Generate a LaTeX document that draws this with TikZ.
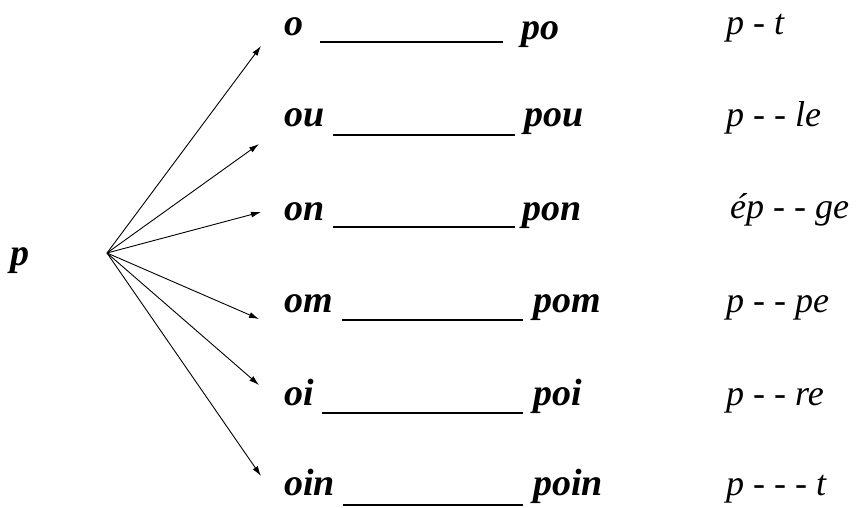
\documentclass[tikz,border=0pt]{standalone}
\usepackage{fontspec}
\setmainfont{Liberation Serif}
\newfontfamily\fa{Liberation Serif}
\usetikzlibrary{arrows.meta}
\begin{document}
\begin{tikzpicture}[x=1pt,y=-1pt,
  txt/.style={inner sep=0pt,anchor=base west},
  arr/.style={draw=black,line width=0.9pt,-{Latex[length=10pt,width=6pt]}},
  blank/.style={draw=black,line width=1.6pt}]
\useasboundingbox (0,0) rectangle (866,507);
\node[txt] (p) at (10,265) {\fontsize{38}{42}\selectfont\fa\bfseries\itshape p};
\coordinate (src) at (107,253);
% left column
\node[txt] (l1) at (284,35) {\fontsize{38}{42}\selectfont\fa\bfseries\itshape o};
\node[txt] (l2) at (284,126) {\fontsize{38}{42}\selectfont\fa\bfseries\itshape ou};
\node[txt] (l3) at (284,220) {\fontsize{38}{42}\selectfont\fa\bfseries\itshape on};
\node[txt] (l4) at (284,312) {\fontsize{38}{42}\selectfont\fa\bfseries\itshape om};
\node[txt] (l5) at (284,405) {\fontsize{38}{42}\selectfont\fa\bfseries\itshape oi};
\node[txt] (l6) at (284,495) {\fontsize{38}{42}\selectfont\fa\bfseries\itshape oin};
% middle column
\node[txt] (m1) at (521,39) {\fontsize{38}{42}\selectfont\fa\bfseries\itshape po};
\node[txt] (m2) at (524,126) {\fontsize{38}{42}\selectfont\fa\bfseries\itshape pou};
\node[txt] (m3) at (522,220) {\fontsize{38}{42}\selectfont\fa\bfseries\itshape pon};
\node[txt] (m4) at (533,312) {\fontsize{38}{42}\selectfont\fa\bfseries\itshape pom};
\node[txt] (m5) at (533,405) {\fontsize{38}{42}\selectfont\fa\bfseries\itshape poi};
\node[txt] (m6) at (533,495) {\fontsize{38}{42}\selectfont\fa\bfseries\itshape poin};
% right column
\node[txt] (r1) at (726,34) {\fontsize{36}{40}\selectfont\fa\itshape p - t};
\node[txt] (r2) at (726,126) {\fontsize{36}{40}\selectfont\fa\itshape p - - le};
\node[txt] (r3) at (730,218) {\fontsize{36}{40}\selectfont\fa\itshape ép - - ge};
\node[txt] (r4) at (726,312) {\fontsize{36}{40}\selectfont\fa\itshape p - - pe};
\node[txt] (r5) at (726,405) {\fontsize{36}{40}\selectfont\fa\itshape p - - re};
\node[txt] (r6) at (726,495) {\fontsize{36}{40}\selectfont\fa\itshape p - - - t};
% blanks
\coordinate (b1s) at (320,42); \coordinate (b1e) at (503,42);
\coordinate (b2s) at (333,135); \coordinate (b2e) at (515,135);
\coordinate (b3s) at (333,227); \coordinate (b3e) at (515,227);
\coordinate (b4s) at (342,320); \coordinate (b4e) at (523,320);
\coordinate (b5s) at (322,413); \coordinate (b5e) at (523,413);
\coordinate (b6s) at (343,505); \coordinate (b6e) at (523,505);
\foreach \i in {1,...,6} {\draw[blank] (b\i s) -- (b\i e);}
% arrow tips
\coordinate (t1) at (261,46);
\coordinate (t2) at (259,144);
\coordinate (t3) at (261,212);
\coordinate (t4) at (259,319);
\coordinate (t5) at (259,385);
\coordinate (t6) at (261,476);
\foreach \i in {1,...,6} {\draw[arr] (src) -- (t\i);}
\end{tikzpicture}
\end{document}
